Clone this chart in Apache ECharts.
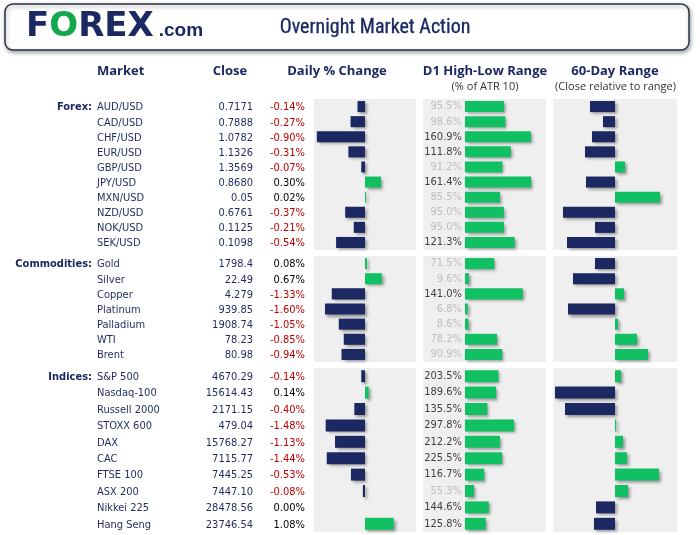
<!DOCTYPE html>
<html><head><meta charset="utf-8">
<script src="https://cdn.jsdelivr.net/npm/echarts@6/dist/echarts.min.js"></script>
<style>html,body{margin:0;padding:0;background:#fff}#c{width:700px;height:535px}</style>
</head><body><div id="c"></div>
<script>
// ---- data ----
const forexNames = ['AUD/USD','CAD/USD','CHF/USD','EUR/USD','GBP/USD','JPY/USD','MXN/USD','NZD/USD','NOK/USD','SEK/USD'];
const forexClose = ['0.7171','0.7888','1.0782','1.1326','1.3569','0.8680','0.05','0.6761','0.1125','0.1098'];
const forexDaily = [-0.14,-0.27,-0.90,-0.31,-0.07,0.30,0.02,-0.37,-0.21,-0.54];
const forexD1 = [95.5,98.6,160.9,111.8,91.2,161.4,85.5,95.0,95.0,121.3];
const forex60 = [-25,-12,-23,-30,10,-29,45,-52,-20,-48];

const commNames = ['Gold','Silver','Copper','Platinum','Palladium','WTI','Brent'];
const commClose = ['1798.4','22.49','4.279','939.85','1908.74','78.23','80.98'];
const commDaily = [0.08,0.67,-1.33,-1.60,-1.05,-0.85,-0.94];
const commD1 = [71.5,9.6,141.0,6.8,8.6,78.2,90.9];
const comm60 = [-20,-42,9,-47,3,22,33];

const idxNames = ['S&P 500','Nasdaq-100','Russell 2000','STOXX 600','DAX','CAC','FTSE 100','ASX 200','Nikkei 225','Hang Seng'];
const idxClose = ['4670.29','15614.43','2171.15','479.04','15768.27','7115.77','7445.25','7447.10','28478.56','23746.54'];
const idxDaily = [-0.14,0.14,-0.40,-1.48,-1.13,-1.44,-0.53,-0.08,0.00,1.08];
const idxD1 = [203.5,189.6,135.5,297.8,212.2,225.5,116.7,55.3,144.6,125.8];
const idx60 = [6,-60,-50,1.3,8,12,44,13,-19,-21];

const sectionLabels = ['Forex:','Commodities:','Indices:'];

// ---- styles ----
const NAVY = '#1B2862', GREEN = '#12C064', PANEL = '#EFEFEF';
const ROWFONT = "'DejaVu Sans Condensed', 'Liberation Sans', sans-serif";
const HEADFONT = "'Open Sans', 'Liberation Sans', sans-serif";

const sections = [
  {label:sectionLabels[0], names:forexNames, close:forexClose, daily:forexDaily, d1:forexD1, d60:forex60, top:99, height:151, dMax:0.953, rMin:-102.4, rMax:197.6},
  {label:sectionLabels[1], names:commNames, close:commClose, daily:commDaily, d1:commD1, d60:comm60, top:256, height:106, dMax:2.04, rMin:-102.4, rMax:197.6},
  {label:sectionLabels[2], names:idxNames, close:idxClose, daily:idxDaily, d1:idxD1, d60:idx60, top:368, height:164, dMax:1.92, rMin:-255, rMax:492}
];

const grid = [], xAxis = [], yAxis = [], series = [];
function addCell(g, yData, yOpt, xOpt) {
  const i = grid.length;
  grid.push(Object.assign({containLabel:false}, g));
  xAxis.push(Object.assign({gridIndex:i, type:'value', show:false}, xOpt || {min:0, max:1}));
  yAxis.push(Object.assign({gridIndex:i, type:'category', data:yData, inverse:true}, yOpt));
  return i;
}
function textAxis(align, color, weight) {
  return {
    position:'left', axisLine:{show:false}, axisTick:{show:false}, splitLine:{show:false},
    axisLabel:{interval:0, margin:0, align:align, color:color, fontSize:11, fontFamily:ROWFONT, fontWeight:weight || 'normal'}
  };
}
const barShadow = {shadowColor:'rgba(0,0,0,0.38)', shadowBlur:3, shadowOffsetX:2, shadowOffsetY:2};

sections.forEach(s => {
  const base = {top:s.top + 1, height:s.height};
  const pbase = {top:s.top, height:s.height};
  // section label
  const lab = s.names.map((n, k) => k === 0 ? s.label : '');
  addCell(Object.assign({left:92, width:2}, base), lab, textAxis('right', NAVY, 'bold'));
  // market names
  addCell(Object.assign({left:97, width:2}, base), s.names, textAxis('left', '#1F2B5E'));
  // close
  addCell(Object.assign({left:253, width:2}, base), s.close, textAxis('right', '#1F2B5E'));
  // daily pct text
  const pct = s.daily.map(v => v.toFixed(2) + '%');
  const pa = textAxis('right', '#000');
  pa.axisLabel.color = function (val) { return String(val).charAt(0) === '-' ? '#C00000' : '#000000'; };
  addCell(Object.assign({left:305, width:2}, base), pct, pa);

  // daily bars
  let i = addCell(Object.assign({left:314, width:102, show:true, backgroundColor:PANEL, borderWidth:0}, pbase),
    s.names, {show:false}, {min:-s.dMax, max:s.dMax});
  series.push({type:'bar', xAxisIndex:i, yAxisIndex:i, data:s.daily, barWidth:'73%', silent:true,
    itemStyle:Object.assign({color:p => p.value < 0 ? NAVY : GREEN}, barShadow)});

  // D1 range bars
  i = addCell(Object.assign({left:423, width:123, show:true, backgroundColor:PANEL, borderWidth:0}, pbase),
    s.names, {show:false}, {min:s.rMin, max:s.rMax});
  series.push({type:'bar', xAxisIndex:i, yAxisIndex:i, barWidth:'73%', silent:true,
    data:s.d1.map(v => ({value:v, label:{color: v < 100 ? '#BDBDBD' : '#404040'}})),
    itemStyle:Object.assign({color:GREEN}, barShadow),
    label:{show:true, position:'left', distance:3, fontSize:11, fontFamily:ROWFONT,
      formatter:p => p.value.toFixed(1) + '%'}});

  // 60-day range bars
  i = addCell(Object.assign({left:553, width:124, show:true, backgroundColor:PANEL, borderWidth:0}, pbase),
    s.names, {show:false}, {min:-62, max:62});
  series.push({type:'bar', xAxisIndex:i, yAxisIndex:i, data:s.d60, barWidth:'73%', silent:true,
    itemStyle:Object.assign({color:p => p.value < 0 ? NAVY : GREEN}, barShadow)});
});

const headStyle = {fill:NAVY, font:"bold 13px " + HEADFONT, textVerticalAlign:'middle'};
const subStyle = {fill:'#333333', font:"11px " + HEADFONT, textVerticalAlign:'middle', textAlign:'center'};

const graphic = [
  {type:'rect', shape:{x:5, y:4, width:684, height:46, r:8},
   style:{fill:'#fff', stroke:'#2A3344', lineWidth:1.5, shadowColor:'rgba(0,0,0,0.35)', shadowBlur:4, shadowOffsetY:2, shadowOffsetX:1}},
  {type:'text', x:26, y:27, style:{
    text:'{n|F}{g|O}{n|REX}{c|.com}', textVerticalAlign:'middle',
    rich:{
      n:{fill:NAVY, font:"bold 34px 'DejaVu Sans', sans-serif"},
      g:{fill:'#13A84E', font:"bold 34px 'DejaVu Sans', sans-serif"},
      c:{fill:NAVY, font:"bold 19px 'Liberation Sans', sans-serif", verticalAlign:'bottom', padding:[0,0,4,5]}
    }}},
  {type:'text', x:375, y:28, style:{text:'Overnight Market Action', fill:NAVY,
    font:"20px 'Liberation Sans Narrow', 'Roboto Condensed', Roboto, sans-serif", textAlign:'center', textVerticalAlign:'middle',
    stroke:NAVY, lineWidth:0.3}},
  {type:'text', x:97, y:71, style:Object.assign({text:'Market', textAlign:'left'}, headStyle)},
  {type:'text', x:230, y:71, style:Object.assign({text:'Close', textAlign:'center'}, headStyle)},
  {type:'text', x:337, y:71, style:Object.assign({text:'Daily % Change', textAlign:'center'}, headStyle)},
  {type:'text', x:485, y:71, style:Object.assign({text:'D1 High-Low Range', textAlign:'center'}, headStyle)},
  {type:'text', x:615, y:71, style:Object.assign({text:'60-Day Range', textAlign:'center'}, headStyle)},
  {type:'text', x:485, y:87, style:Object.assign({text:'(% of ATR 10)'}, subStyle)},
  {type:'text', x:615.5, y:87, style:Object.assign({text:'(Close relative to range)'}, subStyle)}
];

const chart = echarts.init(document.getElementById('c'), null, {renderer:'canvas'});
chart.setOption({animation:false, backgroundColor:'#fff', grid, xAxis, yAxis, series, graphic});
</script>
</body></html>
